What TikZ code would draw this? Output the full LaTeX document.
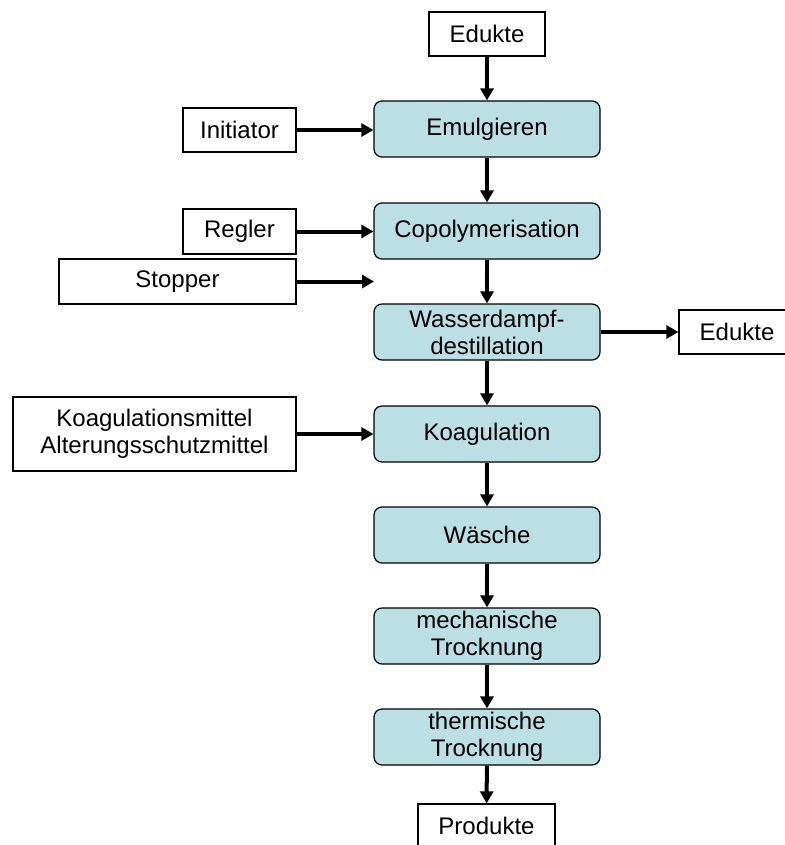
\documentclass[tikz,border=0pt]{standalone}
\usepackage{fontspec}
\setmainfont{Liberation Sans}
\usetikzlibrary{arrows.meta}
\definecolor{procfill}{RGB}{187,224,227}
\tikzset{
  proc/.style={draw=black, line width=1.2pt, fill=procfill, rounded corners=8pt,
    minimum width=226pt, minimum height=56pt, inner sep=0pt, align=center,
    font=\fontsize{24}{27}\selectfont},
  io/.style={draw=black, line width=1.2pt, fill=white, inner sep=0pt, align=center,
    minimum height=44pt, font=\fontsize{24}{27}\selectfont},
  flow/.style={line width=4pt, -{Triangle[length=12pt,width=13pt]}}
}
\begin{document}
\begin{tikzpicture}[x=1pt,y=-1pt]
\useasboundingbox[fill=white] (0,0) rectangle (784,845);
% process column
\node[proc] (emu) at (487,129) {Emulgieren};
\node[proc] (copo) at (487,231) {Copolymerisation};
\node[proc] (wdd) at (487,332) {Wasserdampf-\\destillation};
\node[proc] (koag) at (487,434) {Koagulation};
\node[proc] (wae) at (487,535) {Wäsche};
\node[proc] (mech) at (487,636) {mechanische\\Trocknung};
\node[proc] (therm) at (487,737) {thermische\\Trocknung};
% inputs / outputs
\node[io, minimum width=116pt] (edtop) at (487,34) {Edukte};
\node[io, minimum width=113pt] (init) at (239.5,130) {Initiator};
\node[io, minimum width=113pt, minimum height=45pt] (regl) at (239.5,231.5) {Regler};
\node[io, minimum width=237pt, minimum height=45pt] (stop) at (177.5,281.5) {Stopper};
\node[io, minimum width=116pt] (edr) at (737,332) {Edukte};
\node[io, minimum width=283pt, minimum height=74pt] (kmit) at (154.5,434) {Koagulationsmittel\\Alterungsschutzmittel};
\node[io, minimum width=137pt] (prod) at (486.5,826) {Produkte};
\coordinate (stopend) at (374,281.5);
% connectors
\draw[flow] (edtop) -- (emu);
\draw[flow] (emu) -- (copo);
\draw[flow] (copo) -- (wdd);
\draw[flow] (wdd) -- (koag);
\draw[flow] (koag) -- (wae);
\draw[flow] (wae) -- (mech);
\draw[flow] (mech) -- (therm);
\draw[flow] (therm) -- (prod);
\draw[flow] (init) -- (init -| emu.west);
\draw[flow] (regl) -- (regl -| copo.west);
\draw[flow] (stop) -- (stopend);
\draw[flow] (wdd) -- (edr);
\draw[flow] (kmit) -- (kmit -| koag.west);
\end{tikzpicture}
\end{document}
